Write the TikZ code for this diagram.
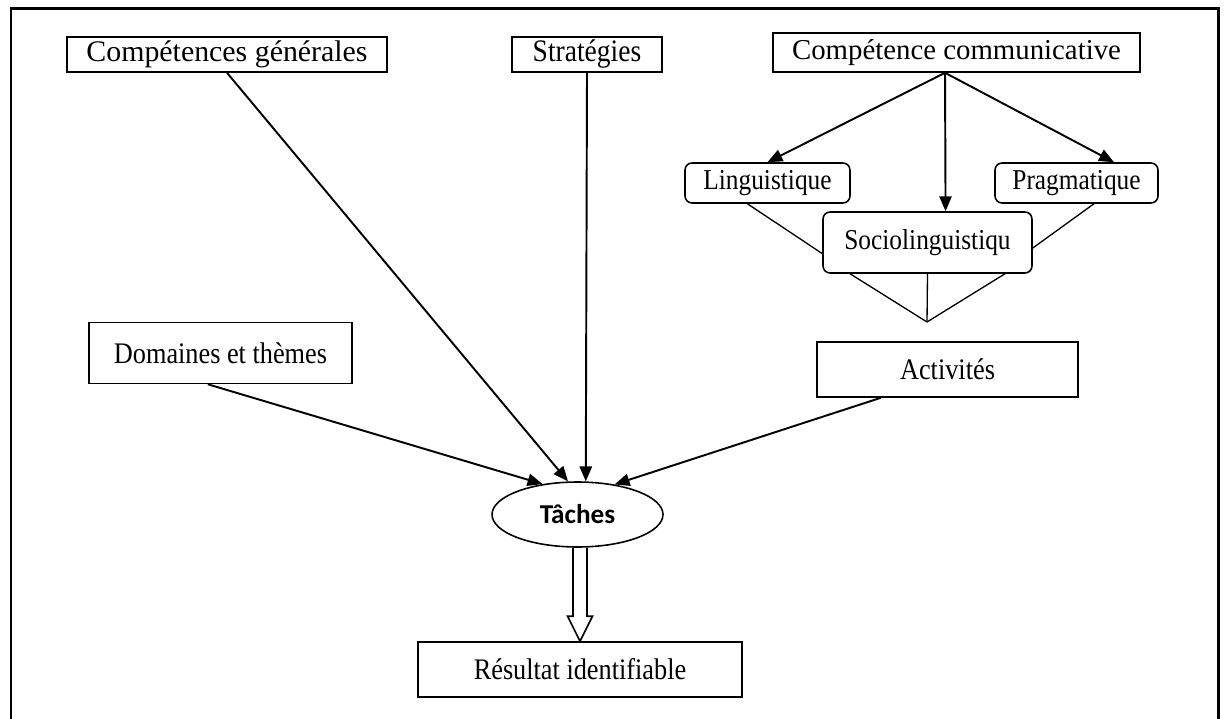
\documentclass[tikz,border=0pt]{standalone}
\usepackage{fontspec}
\setmainfont{Liberation Serif}[FakeStretch=0.88]
\newfontfamily\plainserif{Liberation Serif}
\newfontfamily\tachefont{Carlito}
\usetikzlibrary{arrows.meta,shapes.geometric}
\newcommand\fsz[1]{\fontsize{#1}{#1}\selectfont}
\tikzset{
  box/.style={draw, line width=0.9pt, inner sep=0pt, font=\fsz{17}},
  rbox/.style={box, rounded corners=4pt, font=\fsz{16.4}},
  arr/.style={line width=1.1pt, -{Triangle[length=8.5pt,width=7pt]}},
  thin line/.style={line width=0.75pt},
  frame/.style={line width=1.7pt}
}
\begin{document}
\begin{tikzpicture}[x=0.02cm,y=-0.02cm]
\useasboundingbox (0,0) rectangle (1226,719);
\draw[frame] (11,719) -- (11,8.5) -- (1218,8.5) -- (1218,719);

\node[box, font=\plainserif\fsz{17}, minimum width=6.4cm, minimum height=0.7cm] (cg) at (227,54.5) {Compétences générales};
\node[box, font=\fsz{17.8}, minimum width=3.0cm, minimum height=0.7cm] (st) at (587,54.5) {Stratégies};
\node[box, font=\plainserif\fsz{16.4}, minimum width=7.34cm, minimum height=0.78cm] (cc) at (956.5,52.5) {Compétence communicative};
\node[rbox, minimum width=3.3cm, minimum height=0.8cm] (li) at (767.5,183) {Linguistique};
\node[rbox, minimum width=3.26cm, minimum height=0.8cm] (pr) at (1076.5,183) {Pragmatique};
\node[rbox, minimum width=4.18cm, minimum height=1.22cm] (so) at (927.5,242.5) {Sociolinguistiqu};
\node[box, minimum width=5.22cm, minimum height=1.1cm] (ac) at (947.5,369.5) {Activités};
\node[box, minimum width=5.26cm, minimum height=1.22cm] (dt) at (220.5,353) {Domaines et thèmes};
\node[ellipse, draw, line width=0.9pt, inner sep=0pt, minimum width=3.42cm, minimum height=1.3cm, font=\tachefont\bfseries\fsz{15.5}] (ta) at (577.5,514.5) {Tâches};
\node[box, minimum width=6.48cm, minimum height=1.1cm] (re) at (580,669.5) {Résultat identifiable};

% communicative competence branches
\coordinate (ccs) at ([xshift=-0.23cm]cc.south);
\draw[arr] (ccs) -- (li.north);
\draw[arr] (ccs) -- (pr.29);
\draw[arr] (ccs) -- (so.60);

\draw[thin line] (li.-134) -- (so.186);
\draw[thin line] (pr.-50.5) -- (so.-3);

\coordinate (join) at (927,322);
\draw[thin line] (so.-158.5) -- (join);
\draw[thin line] (so.-22.8) -- (join);
\draw[thin line] (so.south) -- (join);

% arrows into Taches
\draw[arr] (cg.south) -- (ta.106);
\draw[arr] (st.south) -- (ta.76);
\draw[arr] (dt.-112) -- (ta.139);
\draw[arr] (ac.-157) -- (ta.39);

% hollow arrow to result
\draw[line width=0.9pt]
  ([xshift=-0.14cm]ta.south -| re.north) --
  ([xshift=-0.14cm,yshift=0.5cm]re.north) --
  ([xshift=-0.25cm,yshift=0.5cm]re.north) --
  (re.north) --
  ([xshift=0.25cm,yshift=0.5cm]re.north) --
  ([xshift=0.14cm,yshift=0.5cm]re.north) --
  ([xshift=0.14cm]ta.south -| re.north);
\end{tikzpicture}
\end{document}
